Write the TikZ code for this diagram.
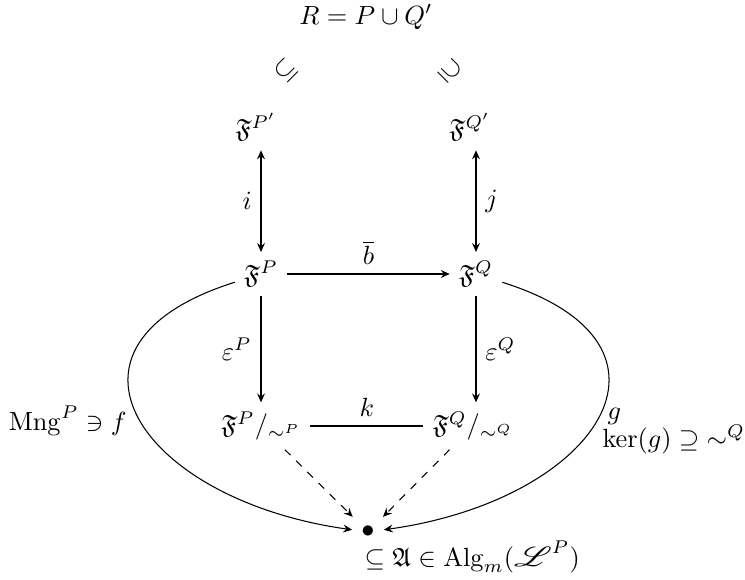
\documentclass[tikz,border=0pt]{standalone}
\usepackage{amssymb}
\usepackage{mathrsfs}
\usepackage{graphicx}
\usetikzlibrary{arrows.meta}
\begin{document}
\begin{tikzpicture}[x=0.38pt,y=-0.38pt,
  >={Stealth[length=3.4pt,width=3pt,inset=1.2pt]},
  obj/.style={},
  txt/.style={inner sep=0pt}]
\useasboundingbox (0,0) rectangle (745,580);
% objects
\node[obj] (R) at (366,17) {$R = P \cup Q'$};
\node[obj,rotate=45] (s1) at (286,71) {$\subseteq$};
\node[obj,rotate=-45] (s2) at (450,71) {$\supseteq$};
\node[obj] (FPp) at (256,127) {$\mathfrak{F}^{P'}$};
\node[obj] (FQp) at (470,127) {$\mathfrak{F}^{Q'}$};
\node[obj] (FP) at (261,274) {$\mathfrak{F}^{P}$};
\node[obj] (FQ) at (476,274) {$\mathfrak{F}^{Q}$};
\node[obj] (FPq) at (261,426) {$\mathfrak{F}^{P}/_{\sim^P}$};
\node[obj] (FQq) at (473,426) {$\mathfrak{F}^{Q}/_{\sim^Q}$};
\node[obj] (dot) at (368,532) {$\bullet$};
% free labels
\node[txt,anchor=base east] (mng) at (127,430) {$\mathrm{Mng}^P \ni f$};
\node[txt,anchor=base west] (g) at (607,419) {$g$};
\node[txt,anchor=base west] (ker) at (602,447) {$\ker(g) \supseteq {\sim^Q}$};
\node[txt,anchor=base west] (alg) at (364,566) {$\subseteq \mathfrak{A} \in \mathrm{Alg}_m(\scalebox{1.35}[1.05]{$\mathscr{L}$}^P)$};
% connectors
\draw[<->] (FPp.south -| FP) -- (FP) node[midway,left] {$i$};
\draw[<->] (FQp.south -| FQ) -- (FQ) node[midway,right] {$j$};
\draw[->] (FP) -- (FQ) node[midway,above] {$\overline{b}$};
\draw[->] (FP) -- (FPq.north -| FP) node[midway,left] {$\varepsilon^P$};
\draw[->] (FQ) -- (FQq.north -| FQ) node[midway,right] {$\varepsilon^Q$};
\draw (FPq) -- (FQq) node[midway,above] {$k$};
\draw[->,dashed] (FPq) -- (dot);
\draw[->,dashed] (FQq) -- (dot);
\draw[->] (FP) .. controls (35,345) and (140,500) .. (dot);
\draw[->] (FQ) .. controls (702,345) and (597,500) .. (dot);
\end{tikzpicture}
\end{document}
